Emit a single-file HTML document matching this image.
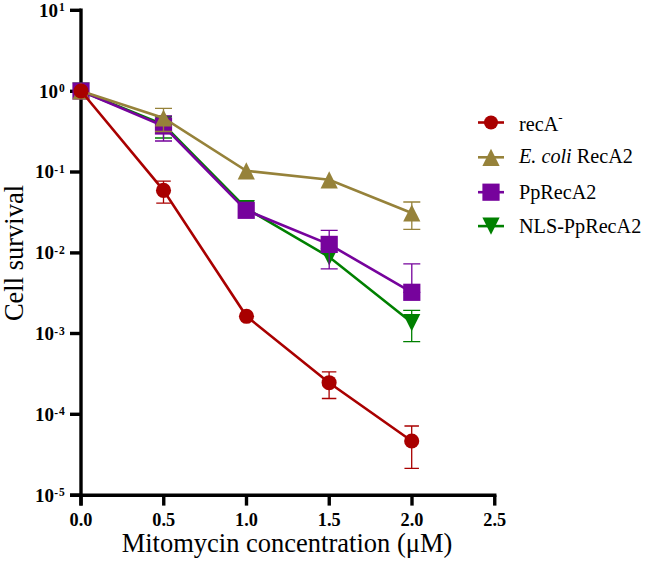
<!DOCTYPE html>
<html><head><meta charset="utf-8"><style>
html,body{margin:0;padding:0;background:#fff;}
body{width:645px;height:563px;overflow:hidden;}
svg{display:block;}
text{font-family:"Liberation Serif",serif;fill:#000;}
.tb{font-weight:bold;font-size:19px;}
.tx{font-weight:bold;font-size:18.3px;}
.ts{font-weight:bold;font-size:11.5px;}
.tt{font-size:26.5px;}
.tl{font-size:20.2px;}
</style></head><body>
<svg width="645" height="563" viewBox="0 0 645 563">
<path d="M81.0,8.600000000000001V505.6" stroke="#000" stroke-width="3.4" fill="none"/>
<path d="M70,495.2H496.45" stroke="#000" stroke-width="3.4" fill="none"/>
<path d="M70,10.3H81.0" stroke="#000" stroke-width="3.4" fill="none"/>
<path d="M70,91.3H81.0" stroke="#000" stroke-width="3.4" fill="none"/>
<path d="M70,172.0H81.0" stroke="#000" stroke-width="3.4" fill="none"/>
<path d="M70,252.9H81.0" stroke="#000" stroke-width="3.4" fill="none"/>
<path d="M70,333.5H81.0" stroke="#000" stroke-width="3.4" fill="none"/>
<path d="M70,414.3H81.0" stroke="#000" stroke-width="3.4" fill="none"/>
<path d="M70,495.2H81.0" stroke="#000" stroke-width="3.4" fill="none"/>
<path d="M81.0,495.2V505.6" stroke="#000" stroke-width="3.4" fill="none"/>
<path d="M163.75,495.2V505.6" stroke="#000" stroke-width="3.4" fill="none"/>
<path d="M246.5,495.2V505.6" stroke="#000" stroke-width="3.4" fill="none"/>
<path d="M329.25,495.2V505.6" stroke="#000" stroke-width="3.4" fill="none"/>
<path d="M412.0,495.2V505.6" stroke="#000" stroke-width="3.4" fill="none"/>
<path d="M494.75,495.2V505.6" stroke="#000" stroke-width="3.4" fill="none"/>
<text x="64.8" y="16.700000000000003" text-anchor="end" class="tb">10<tspan dx="1.1" dy="-5.7" class="ts">1</tspan></text>
<text x="64.8" y="97.7" text-anchor="end" class="tb">10<tspan dx="1.1" dy="-5.7" class="ts">0</tspan></text>
<text x="64.8" y="178.4" text-anchor="end" class="tb">10<tspan dx="0.3" dy="-4.2" class="ts">-</tspan><tspan dx="0.9" dy="-1.1" class="ts">1</tspan></text>
<text x="64.8" y="259.3" text-anchor="end" class="tb">10<tspan dx="0.3" dy="-4.2" class="ts">-</tspan><tspan dx="0.9" dy="-1.1" class="ts">2</tspan></text>
<text x="64.8" y="339.9" text-anchor="end" class="tb">10<tspan dx="0.3" dy="-4.2" class="ts">-</tspan><tspan dx="0.9" dy="-1.1" class="ts">3</tspan></text>
<text x="64.8" y="420.7" text-anchor="end" class="tb">10<tspan dx="0.3" dy="-4.2" class="ts">-</tspan><tspan dx="0.9" dy="-1.1" class="ts">4</tspan></text>
<text x="64.8" y="501.59999999999997" text-anchor="end" class="tb">10<tspan dx="0.3" dy="-4.2" class="ts">-</tspan><tspan dx="0.9" dy="-1.1" class="ts">5</tspan></text>
<text x="81.0" y="526.2" text-anchor="middle" class="tx">0.0</text>
<text x="163.75" y="526.2" text-anchor="middle" class="tx">0.5</text>
<text x="246.5" y="526.2" text-anchor="middle" class="tx">1.0</text>
<text x="329.25" y="526.2" text-anchor="middle" class="tx">1.5</text>
<text x="412.0" y="526.2" text-anchor="middle" class="tx">2.0</text>
<text x="494.75" y="526.2" text-anchor="middle" class="tx">2.5</text>
<text x="287" y="551.6" text-anchor="middle" class="tt">Mitomycin concentration (μM)</text>
<text transform="translate(22.5,253) rotate(-90)" text-anchor="middle" class="tt">Cell survival</text>
<path d="M163.5,116.5V138.0M155.0,116.5h17M155.0,138.0h17" stroke="#008000" stroke-width="1.3" fill="none"/><path d="M411.7,310.4V341.6M403.2,310.4h17M403.2,341.6h17" stroke="#008000" stroke-width="1.3" fill="none"/>
<polyline points="81,91 163.5,124.5 246.3,208.5 329.2,257.0 411.7,322.6" fill="none" stroke="#008000" stroke-width="2.6" stroke-linejoin="miter"/>
<path d="M72.4,82.4L89.6,82.4L81,99.6Z" fill="#008000"/>
<path d="M154.9,115.9L172.1,115.9L163.5,133.1Z" fill="#008000"/>
<path d="M237.70000000000002,199.9L254.9,199.9L246.3,217.1Z" fill="#008000"/>
<path d="M320.59999999999997,248.4L337.8,248.4L329.2,265.6Z" fill="#008000"/>
<path d="M403.09999999999997,314.0L420.3,314.0L411.7,331.20000000000005Z" fill="#008000"/>
<path d="M163.5,115.9V141.0M155.0,115.9h17M155.0,141.0h17" stroke="#76039C" stroke-width="1.3" fill="none"/><path d="M329.2,230.3V268.8M320.7,230.3h17M320.7,268.8h17" stroke="#76039C" stroke-width="1.3" fill="none"/><path d="M411.8,263.8V292.3M403.3,263.8h17M403.3,292.3h17" stroke="#76039C" stroke-width="1.3" fill="none"/>
<polyline points="81,91 163.5,126.0 246.2,210.3 329.2,244.4 411.8,292.3" fill="none" stroke="#76039C" stroke-width="2.6" stroke-linejoin="miter"/>
<rect x="72.4" y="82.4" width="17.2" height="17.2" fill="#76039C"/>
<rect x="154.9" y="117.4" width="17.2" height="17.2" fill="#76039C"/>
<rect x="237.6" y="201.70000000000002" width="17.2" height="17.2" fill="#76039C"/>
<rect x="320.59999999999997" y="235.8" width="17.2" height="17.2" fill="#76039C"/>
<rect x="403.2" y="283.7" width="17.2" height="17.2" fill="#76039C"/>
<path d="M163.5,108.3V131.5M155.0,108.3h17M155.0,131.5h17" stroke="#96823A" stroke-width="1.3" fill="none"/><path d="M411.8,202.0V229.3M403.3,202.0h17M403.3,229.3h17" stroke="#96823A" stroke-width="1.3" fill="none"/>
<polyline points="81,91 163.5,118.0 246.3,170.8 329.2,179.8 411.8,213.0" fill="none" stroke="#96823A" stroke-width="2.6" stroke-linejoin="miter"/>
<path d="M81,82.4L89.6,99.6L72.4,99.6Z" fill="#96823A"/>
<path d="M163.5,109.4L172.1,126.6L154.9,126.6Z" fill="#96823A"/>
<path d="M246.3,162.20000000000002L254.9,179.4L237.70000000000002,179.4Z" fill="#96823A"/>
<path d="M329.2,171.20000000000002L337.8,188.4L320.59999999999997,188.4Z" fill="#96823A"/>
<path d="M411.8,204.4L420.40000000000003,221.6L403.2,221.6Z" fill="#96823A"/>
<path d="M163.5,181.1V203.1M156.25,181.1h14.5M156.25,203.1h14.5" stroke="#A90000" stroke-width="1.3" fill="none"/><path d="M329.1,371.8V398.5M321.85,371.8h14.5M321.85,398.5h14.5" stroke="#A90000" stroke-width="1.3" fill="none"/><path d="M411.7,426.0V468.3M404.45,426.0h14.5M404.45,468.3h14.5" stroke="#A90000" stroke-width="1.3" fill="none"/>
<polyline points="81,91 163.5,190.4 246.5,316.3 329.1,382.7 411.7,441.0" fill="none" stroke="#A90000" stroke-width="2.6" stroke-linejoin="miter"/>
<circle cx="81" cy="91" r="7.55" fill="#A90000"/>
<circle cx="163.5" cy="190.4" r="7.55" fill="#A90000"/>
<circle cx="246.5" cy="316.3" r="7.55" fill="#A90000"/>
<circle cx="329.1" cy="382.7" r="7.55" fill="#A90000"/>
<circle cx="411.7" cy="441.0" r="7.55" fill="#A90000"/>
<path d="M478,122.5H504" stroke="#A90000" stroke-width="2.6"/><circle cx="491" cy="122.5" r="7.0" fill="#A90000"/>
<path d="M478,157.3H504" stroke="#96823A" stroke-width="2.6"/><path d="M491,148.70000000000002L499.6,165.9L482.4,165.9Z" fill="#96823A"/>
<path d="M478,192.2H504" stroke="#76039C" stroke-width="2.6"/><rect x="482.4" y="183.6" width="17.2" height="17.2" fill="#76039C"/>
<path d="M478,226.1H504" stroke="#008000" stroke-width="2.6"/><path d="M482.4,217.5L499.6,217.5L491,234.7Z" fill="#008000"/>
<text x="519" y="130.8" class="tl">recA<tspan dy="-9" font-size="13">-</tspan></text>
<text x="519" y="163.3" class="tl"><tspan font-style="italic">E. coli</tspan> RecA2</text>
<text x="519" y="198.7" class="tl">PpRecA2</text>
<text x="519" y="232.6" class="tl">NLS-PpRecA2</text>
</svg>
</body></html>
